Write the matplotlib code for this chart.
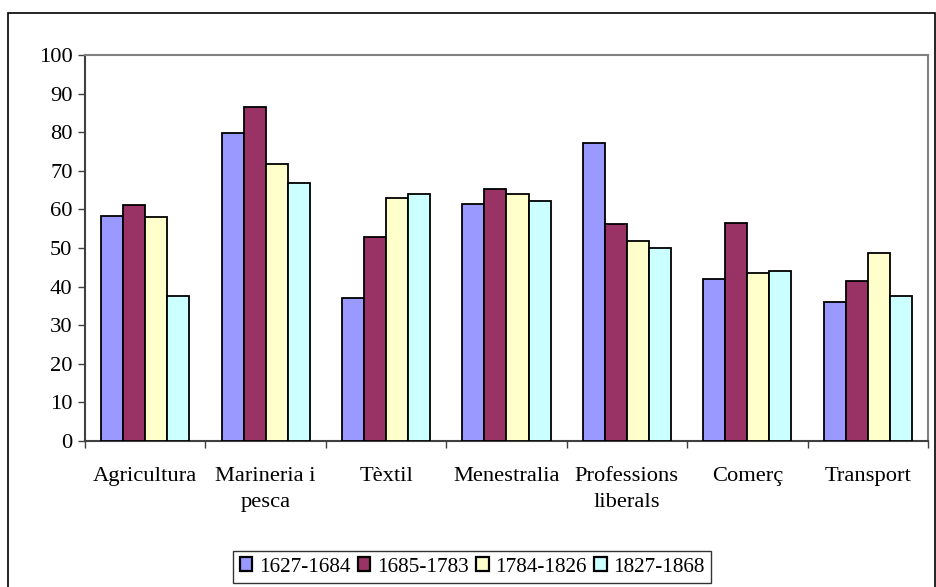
import matplotlib.pyplot as plt
import numpy as np
from matplotlib.patches import Rectangle

# categories and series
categories = ["Agricultura", "Marineria i\npesca", "Tèxtil", "Menestralia",
              "Professions\nliberals", "Comerç", "Transport"]
periods = ["1627-1684", "1685-1783", "1784-1826", "1827-1868"]
v_1627 = [58.4, 79.7, 37.0, 61.3, 77.1, 42.0, 35.9]
v_1685 = [61.1, 86.4, 52.8, 65.4, 56.3, 56.6, 41.4]
v_1784 = [58.1, 71.7, 63.0, 63.9, 51.7, 43.4, 48.6]
v_1827 = [37.6, 66.8, 63.9, 62.3, 49.9, 44.0, 37.6]
colors = ["#9999FF", "#993366", "#FFFFCC", "#CCFFFF"]

plt.rcParams['font.family'] = ['Liberation Serif', 'DejaVu Serif']
plt.rcParams['font.size'] = 16.2

W, H = 936, 587
fig = plt.figure(figsize=(W / 100, H / 100), dpi=100)

# outer chart border (bottom runs off the image)
fig.patches.append(Rectangle((8 / W, -0.02), (935 - 8) / W, (H - 13) / H + 0.02,
                             transform=fig.transFigure, fill=False,
                             edgecolor="black", linewidth=1.2))

ax = fig.add_axes([85 / W, (H - 441) / H, 843 / W, 386 / H])

x = np.arange(len(categories))
bw = 0.183
series = [v_1627, v_1685, v_1784, v_1827]
for i, vals in enumerate(series):
    ax.bar(x + (i - 1.5) * bw, vals, bw, color=colors[i], edgecolor="black",
           linewidth=1.3, label=periods[i], zorder=3)

ax.set_xlim(-0.5, len(categories) - 0.5)
ax.set_ylim(0, 100)
ax.set_yticks(np.arange(0, 101, 10))
ax.tick_params(axis='y', direction='out', length=5, width=1, color="#404040", pad=4)

ax.set_xticks(x)
ax.set_xticklabels(categories, linespacing=1.45)
ax.set_xticks(np.arange(-0.5, len(categories), 1), minor=True)
ax.tick_params(axis='x', which='major', length=0, pad=19)
ax.tick_params(axis='x', which='minor', direction='out', length=5, width=1, color="#404040")

for s in ["top", "right"]:
    ax.spines[s].set_color("#808080")
    ax.spines[s].set_linewidth(1.5)
ax.spines["left"].set_color("#404040")
ax.spines["left"].set_linewidth(1.5)
ax.spines["bottom"].set_color("#404040")
ax.spines["bottom"].set_linewidth(1.5)

leg = fig.legend(loc="center", bbox_to_anchor=(472 / W, (H - 567) / H), ncol=4,
                 frameon=True, fancybox=False, edgecolor="black",
                 handlelength=0.6, handleheight=0.6, handletextpad=0.3,
                 columnspacing=0.35, borderpad=0.3, borderaxespad=0, fontsize=15.3)
leg.get_frame().set_linewidth(1.0)
for h in leg.legend_handles:
    h.set_linewidth(1.6)

fig.savefig("out.png", dpi=100)
